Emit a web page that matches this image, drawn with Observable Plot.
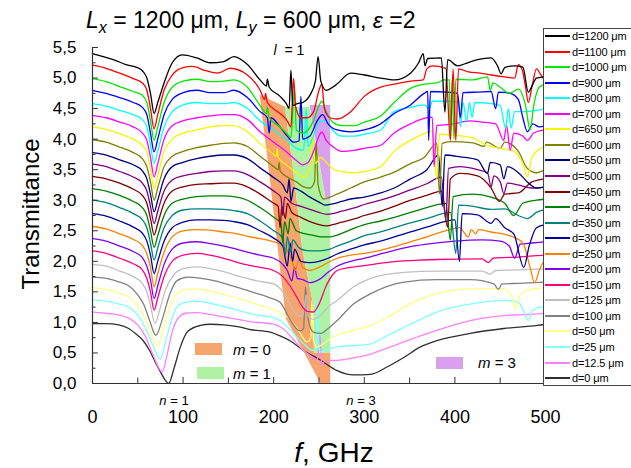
<!DOCTYPE html>
<html><head><meta charset="utf-8">
<script src="https://cdn.jsdelivr.net/npm/d3@7"></script>
<script src="https://cdn.jsdelivr.net/npm/@observablehq/plot@0.6"></script>
<style>
body{margin:0;background:#fff;font-family:"Liberation Sans",Arial,sans-serif;}
#wrap{position:relative;width:631px;height:468px;overflow:hidden;background:#fff;}
.ov{position:absolute;white-space:nowrap;color:#000;line-height:1;}
#wrap svg{position:absolute;left:0;top:0;}
</style></head><body><div id="wrap"></div>
<script>
const seriesNames = ["d=1200 μm","d=1100 μm","d=1000 μm","d=900 μm","d=800 μm","d=700 μm","d=650 μm","d=600 μm","d=550 μm","d=500 μm","d=450 μm","d=400 μm","d=350 μm","d=300 μm","d=250 μm","d=200 μm","d=150 μm","d=125 μm","d=100 μm","d=50 μm","d=25 μm","d=12.5 μm","d=0 μm"];
const seriesColors = ["#000000","#ff0000","#00e800","#0000ff","#00ffff","#ff00ff","#f5f500","#808000","#000080","#800080","#800000","#008000","#008080","#0000a0","#ff8000","#8000ff","#ff0080","#c0c0c0","#808080","#ffff80","#80ffff","#ff80ff","#303030"];

const d1200 = [[0,5.40],[12,5.35],[25,5.29],[37,5.22],[48,5.18],[55,5.12],[60,5.0],[64,4.75],[68,4.42],[72,4.6],[79,4.92],[88,5.25],[99,5.38],[115,5.33],[130,5.25],[145,5.27],[156,5.35],[171,5.22],[185,4.97],[192,4.87],[193,4.98],[195,4.85],[207,4.7],[214,4.58],[217,4.5],[219,5.13],[221,4.55],[226,4.58],[232,4.6],[240,4.72],[246,4.95],[249,5.35],[252,4.95],[258,4.8],[268,4.88],[285,5.08],[300,5.05],[318,5.0],[333,4.97],[351,5.08],[360,5.25],[365,5.4],[367,5.2],[370,5.32],[385,5.33],[389,4.44],[392,5.3],[403,5.2],[414,5.25],[425,5.3],[440,5.33],[447,5.2],[451,5.07],[455,5.17],[465,5.2],[475,5.18],[481,4.77],[486,4.9],[490,5.0],[500,5.02]];
const d1100 = [[0,5.21],[15,5.16],[30,5.08],[45,4.99],[55,4.92],[60,4.8],[64,4.5],[68,4.17],[72,4.4],[79,4.8],[88,5.05],[100,5.17],[110,5.19],[125,5.12],[138,5.08],[152,5.16],[171,5.05],[185,4.8],[190,4.65],[191,4.75],[193,4.6],[207,4.42],[215,4.3],[219,4.2],[222,5.0],[224,4.55],[230,4.35],[237,4.35],[244,4.45],[250,4.8],[253,4.9],[256,4.5],[262,4.35],[270,4.33],[285,4.45],[300,4.7],[318,4.85],[333,4.9],[351,4.95],[365,4.97],[369,5.15],[375,5.2],[390,5.16],[395,3.98],[398,5.15],[401,3.98],[404,5.15],[415,5.1],[428,5.08],[440,5.05],[455,5.02],[466,5.0],[470,5.22],[474,5.15],[478,4.85],[481,4.6],[485,4.85],[490,5.15],[495,5.05],[500,4.95]];
const d1000 = [[0,4.99],[15,4.94],[30,4.86],[45,4.78],[55,4.72],[60,4.6],[64,4.3],[68,3.98],[72,4.2],[79,4.6],[88,4.85],[100,4.95],[115,4.98],[130,4.94],[145,4.95],[156,4.97],[171,4.85],[185,4.55],[192,4.42],[193,4.52],[195,4.35],[207,4.2],[215,4.08],[219,4.03],[223,4.83],[225,4.15],[232,4.1],[238,4.15],[244,4.3],[250,4.55],[253,4.62],[258,4.45],[265,4.28],[275,4.22],[290,4.22],[300,4.28],[318,4.38],[333,4.6],[351,4.83],[366,4.9],[380,4.92],[388,4.97],[394,4.97],[395,4.0],[397,4.98],[399,4.0],[401,4.98],[420,4.97],[436,5.02],[439,4.8],[442,4.92],[450,4.85],[460,4.75],[470,4.82],[478,4.55],[483,4.15],[487,4.55],[493,4.85],[500,4.9]];
const d900 = [[0,4.80],[15,4.75],[30,4.68],[45,4.6],[55,4.52],[60,4.4],[64,4.1],[68,3.79],[72,4.0],[79,4.4],[88,4.65],[100,4.76],[115,4.8],[130,4.76],[145,4.76],[156,4.8],[171,4.68],[185,4.45],[193,4.35],[195,4.1],[197,4.35],[207,4.2],[215,4.05],[222,3.95],[228,3.97],[230,4.7],[232,4.0],[240,4.05],[248,4.3],[254,4.4],[260,4.25],[270,4.15],[285,4.12],[300,4.15],[318,4.25],[333,4.42],[351,4.56],[366,4.75],[370,4.78],[371,3.98],[373,4.78],[390,4.77],[403,4.75],[406,4.35],[409,4.76],[425,4.77],[440,4.78],[445,4.5],[448,4.77],[461,4.75],[470,4.65],[475,4.35],[480,4.12],[486,4.25],[493,4.2],[500,4.22]];
const d800 = [[0,4.58],[15,4.54],[30,4.47],[45,4.4],[55,4.32],[60,4.2],[64,3.9],[68,3.6],[72,3.8],[79,4.2],[88,4.45],[100,4.56],[115,4.6],[130,4.58],[145,4.58],[156,4.6],[171,4.5],[185,4.3],[200,4.15],[215,3.98],[225,3.85],[233,3.82],[236,4.5],[238,3.88],[244,4.05],[252,4.3],[258,4.3],[265,4.15],[275,4.05],[290,4.05],[300,4.08],[318,4.15],[333,4.45],[351,4.52],[366,4.56],[372,4.5],[375,4.62],[390,4.62],[404,4.6],[406,4.2],[409,4.6],[413,4.28],[416,4.6],[419,4.36],[422,4.6],[440,4.58],[450,4.55],[456,4.18],[459,4.5],[462,4.18],[466,4.45],[475,4.45],[490,4.47],[500,4.5]];
const d700 = [[0,4.39],[15,4.35],[30,4.28],[45,4.2],[55,4.1],[60,3.98],[64,3.7],[68,3.38],[72,3.6],[79,4.0],[88,4.22],[100,4.3],[115,4.35],[130,4.38],[145,4.4],[156,4.4],[171,4.32],[185,4.12],[200,3.95],[215,3.78],[225,3.65],[232,3.58],[238,3.62],[244,3.8],[250,4.05],[253,4.12],[258,3.98],[265,3.88],[275,3.8],[290,3.82],[300,3.85],[318,3.9],[333,4.1],[351,4.25],[366,4.34],[375,4.36],[377,3.55],[380,4.22],[395,4.24],[417,4.3],[430,4.28],[445,4.25],[454,3.98],[457,4.23],[461,3.82],[465,4.1],[475,4.05],[480,3.98],[487,4.1],[500,4.15]];
const d650 = [[0,4.20],[15,4.16],[30,4.09],[45,4.0],[55,3.9],[60,3.78],[64,3.5],[68,3.19],[72,3.4],[79,3.8],[88,4.0],[100,4.1],[115,4.15],[130,4.2],[145,4.22],[156,4.22],[171,4.12],[185,3.93],[200,3.75],[203,3.72],[204,3.85],[205,3.7],[215,3.57],[225,3.45],[233,3.38],[240,3.5],[243,4.09],[246,3.6],[252,3.7],[258,3.62],[265,3.52],[275,3.47],[290,3.45],[300,3.47],[318,3.55],[333,3.8],[351,3.98],[366,4.09],[375,4.13],[380,3.35],[383,4.08],[395,4.07],[420,4.02],[435,3.9],[450,3.85],[465,3.8],[475,3.6],[480,3.38],[485,3.7],[495,3.85],[500,3.88]];
const d600 = [[0,3.99],[15,3.95],[30,3.87],[45,3.78],[55,3.68],[60,3.55],[64,3.3],[68,3.0],[72,3.2],[79,3.55],[88,3.72],[100,3.8],[115,3.86],[130,3.9],[145,3.93],[156,3.94],[171,3.88],[185,3.72],[200,3.55],[205,3.5],[206,3.62],[207,3.48],[215,3.38],[225,3.3],[233,3.22],[240,3.2],[245,3.3],[247,3.95],[249,3.25],[255,3.02],[262,3.05],[270,3.1],[285,3.2],[300,3.3],[318,3.38],[333,3.46],[351,3.6],[366,3.7],[380,3.93],[383,3.1],[386,3.93],[395,3.96],[420,3.94],[432,3.88],[435,3.95],[450,3.85],[455,3.95],[470,3.8],[480,3.52],[490,3.45],[500,3.5]];
const d550 = [[0,3.78],[15,3.74],[30,3.66],[45,3.58],[55,3.48],[60,3.35],[64,3.1],[68,2.81],[72,3.0],[79,3.35],[88,3.55],[100,3.62],[115,3.68],[130,3.72],[145,3.74],[156,3.74],[171,3.68],[185,3.53],[200,3.37],[210,3.25],[215,3.12],[217,3.35],[219,2.98],[222,3.2],[230,3.15],[240,3.05],[250,2.97],[257,2.92],[265,2.94],[275,2.98],[285,3.02],[300,3.05],[318,3.12],[333,3.2],[351,3.35],[369,3.5],[382,3.74],[386,2.9],[389,3.74],[406,3.71],[425,3.66],[436,3.44],[439,3.62],[450,3.58],[454,3.35],[458,3.55],[470,3.45],[480,3.3],[490,3.2],[500,3.22]];
const d500 = [[0,3.59],[15,3.55],[30,3.47],[45,3.38],[55,3.28],[60,3.15],[64,2.9],[68,2.62],[72,2.82],[79,3.15],[88,3.33],[100,3.4],[115,3.44],[130,3.47],[145,3.48],[156,3.48],[171,3.42],[185,3.3],[200,3.15],[208,3.05],[210,2.75],[212,3.05],[220,2.95],[230,2.9],[240,2.85],[250,2.8],[259,2.77],[265,2.78],[275,2.82],[290,2.88],[300,2.93],[318,3.0],[333,3.07],[351,3.17],[369,3.27],[385,3.38],[390,2.68],[393,3.52],[406,3.55],[425,3.5],[436,3.45],[440,3.22],[443,3.4],[450,3.3],[454,3.11],[458,3.28],[470,3.25],[485,3.2],[500,3.22]];
const d450 = [[0,3.39],[15,3.35],[30,3.28],[45,3.18],[55,3.08],[60,2.95],[64,2.7],[68,2.43],[72,2.62],[79,2.95],[88,3.15],[100,3.22],[115,3.26],[130,3.27],[145,3.28],[156,3.28],[171,3.22],[185,3.1],[200,2.95],[205,2.9],[207,2.55],[209,2.9],[213,2.7],[215,2.95],[220,2.8],[230,2.72],[240,2.65],[250,2.6],[259,2.58],[265,2.6],[275,2.64],[290,2.7],[300,2.75],[318,2.82],[333,2.9],[351,3.0],[369,3.08],[385,3.15],[392,2.56],[395,3.35],[406,3.44],[425,3.4],[440,3.2],[449,2.98],[455,3.1],[470,3.12],[485,3.3],[500,3.35]];
const d400 = [[0,3.19],[15,3.15],[30,3.08],[45,2.98],[55,2.88],[60,2.75],[64,2.5],[68,2.23],[72,2.42],[79,2.75],[88,2.95],[100,3.02],[115,3.06],[130,3.07],[145,3.07],[156,3.06],[171,3.0],[185,2.88],[200,2.72],[208,2.62],[210,2.3],[212,2.65],[216,2.45],[218,2.7],[225,2.5],[235,2.45],[245,2.42],[255,2.4],[262,2.4],[270,2.43],[285,2.52],[300,2.6],[318,2.66],[333,2.72],[351,2.8],[369,2.88],[390,2.95],[395,2.35],[398,3.06],[420,3.1],[440,3.05],[455,2.95],[465,2.75],[475,2.95],[490,3.0],[500,3.02]];
const d350 = [[0,3.00],[15,2.96],[30,2.88],[45,2.78],[55,2.68],[60,2.55],[64,2.3],[68,2.02],[72,2.22],[79,2.55],[88,2.75],[100,2.84],[115,2.86],[130,2.86],[145,2.85],[156,2.83],[171,2.78],[185,2.66],[200,2.5],[210,2.38],[213,2.1],[215,2.4],[219,2.15],[221,2.35],[228,2.22],[235,2.18],[245,2.17],[255,2.18],[262,2.2],[270,2.25],[285,2.33],[300,2.42],[318,2.48],[333,2.55],[351,2.63],[369,2.7],[395,2.8],[401,2.13],[404,2.92],[420,2.9],[440,2.85],[455,2.86],[470,2.75],[480,2.7],[490,2.8],[500,2.85]];
const d300 = [[0,2.78],[15,2.74],[30,2.66],[45,2.56],[55,2.46],[60,2.33],[64,2.1],[68,1.8],[72,2.0],[79,2.33],[88,2.55],[100,2.64],[115,2.68],[130,2.68],[145,2.67],[156,2.65],[171,2.6],[185,2.5],[200,2.38],[210,2.25],[215,1.92],[218,2.3],[221,2.0],[223,2.2],[230,2.0],[240,1.98],[250,2.0],[260,2.05],[270,2.12],[285,2.2],[300,2.27],[318,2.33],[333,2.4],[351,2.48],[369,2.56],[400,2.68],[405,2.0],[408,2.78],[425,2.76],[440,2.62],[445,2.7],[455,2.55],[465,2.45],[476,1.9],[482,2.25],[490,2.55],[500,2.6]];
const d250 = [[0,2.57],[15,2.53],[30,2.45],[45,2.36],[55,2.26],[60,2.12],[64,1.9],[68,1.58],[72,1.8],[79,2.15],[88,2.4],[100,2.5],[115,2.52],[130,2.51],[145,2.48],[156,2.46],[171,2.41],[185,2.37],[200,2.32],[210,2.25],[218,2.1],[224,1.85],[228,2.05],[232,1.9],[240,1.85],[250,1.9],[260,1.98],[270,2.05],[285,2.1],[300,2.13],[318,2.18],[333,2.24],[351,2.32],[369,2.4],[392,2.51],[405,2.55],[415,2.4],[418,2.52],[423,2.45],[426,2.52],[440,2.48],[460,2.42],[475,2.3],[483,1.9],[488,1.65],[493,1.85],[500,2.05]];
const d200 = [[0,2.37],[15,2.33],[30,2.25],[45,2.16],[55,2.06],[60,1.92],[64,1.7],[68,1.39],[72,1.6],[79,1.95],[88,2.2],[100,2.3],[115,2.32],[130,2.29],[145,2.25],[156,2.21],[171,2.15],[185,2.1],[200,2.05],[210,1.95],[215,1.85],[220,1.68],[223,1.9],[226,1.72],[232,1.7],[240,1.65],[250,1.7],[260,1.82],[270,1.92],[285,2.0],[300,2.05],[318,2.12],[333,2.18],[351,2.24],[369,2.28],[400,2.33],[430,2.35],[450,2.33],[460,2.25],[466,2.05],[472,2.28],[485,2.3],[500,2.32]];
const d150 = [[0,2.17],[15,2.13],[30,2.05],[45,1.96],[55,1.86],[60,1.72],[64,1.5],[68,1.2],[72,1.4],[79,1.75],[88,2.0],[100,2.1],[115,2.13],[130,2.1],[145,2.05],[156,2.0],[171,1.94],[185,1.9],[200,1.85],[210,1.75],[218,1.6],[226,1.4],[232,1.25],[237,1.18],[244,1.17],[250,1.3],[258,1.6],[265,1.78],[270,1.85],[285,1.9],[300,1.93],[330,1.99],[360,2.02],[380,2.03],[430,2.04],[437,1.98],[442,2.05],[470,2.07],[500,2.1]];
const d125 = [[0,1.95],[15,1.92],[30,1.84],[45,1.75],[55,1.64],[60,1.5],[64,1.28],[69,0.98],[74,1.2],[81,1.55],[90,1.78],[100,1.88],[115,1.91],[130,1.88],[145,1.83],[156,1.78],[171,1.72],[185,1.67],[200,1.63],[210,1.5],[218,1.3],[226,1.12],[232,1.1],[236,1.45],[238,1.1],[244,1.05],[252,1.12],[260,1.25],[270,1.36],[288,1.58],[307,1.72],[344,1.82],[380,1.84],[430,1.84],[439,1.79],[445,1.85],[470,1.86],[500,1.88]];
const d100 = [[0,1.74],[15,1.72],[30,1.66],[40,1.6],[50,1.45],[57,1.28],[63,1.03],[70,0.79],[77,1.05],[85,1.45],[93,1.68],[105,1.74],[120,1.72],[135,1.68],[150,1.62],[165,1.55],[180,1.48],[196,1.4],[207,1.33],[218,1.05],[229,0.86],[233,0.9],[235,1.58],[238,1.05],[244,0.84],[252,0.82],[260,0.9],[270,1.03],[288,1.3],[307,1.47],[344,1.66],[380,1.7],[417,1.7],[443,1.63],[448,1.54],[452,1.63],[470,1.64],[500,1.66]];
const d50 = [[0,1.57],[15,1.54],[30,1.48],[40,1.42],[50,1.28],[57,1.1],[64,0.85],[72,0.6],[77,0.85],[84,1.2],[91,1.43],[100,1.53],[112,1.55],[125,1.53],[140,1.48],[155,1.42],[170,1.35],[185,1.28],[200,1.21],[207,1.17],[218,1.05],[226,0.9],[237,0.68],[241,0.75],[242,1.35],[244,0.7],[248,0.6],[255,0.65],[262,0.73],[270,0.79],[288,0.87],[307,0.95],[325,1.08],[344,1.25],[362,1.38],[380,1.47],[417,1.55],[454,1.55],[462,1.45],[467,1.22],[472,1.45],[480,1.53],[500,1.57]];
const d25 = [[0,1.37],[15,1.35],[30,1.3],[40,1.25],[50,1.12],[58,0.92],[66,0.65],[75,0.4],[80,0.65],[86,0.98],[93,1.25],[100,1.32],[112,1.35],[125,1.33],[140,1.28],[155,1.22],[170,1.16],[185,1.11],[200,1.08],[210,1.0],[220,0.85],[233,0.65],[244,0.54],[247,0.6],[248,1.36],[250,0.56],[252,0.52],[260,0.56],[270,0.6],[288,0.62],[307,0.65],[325,0.78],[344,0.92],[362,1.05],[380,1.17],[417,1.3],[454,1.36],[470,1.33],[477,1.15],[481,1.03],[486,1.2],[495,1.25],[500,1.25]];
const d12_5 = [[0,1.17],[15,1.15],[30,1.12],[40,1.07],[50,0.96],[58,0.78],[66,0.5],[77,0.19],[82,0.45],[88,0.85],[95,1.08],[103,1.15],[115,1.16],[130,1.13],[145,1.09],[160,1.05],[175,1.01],[190,0.99],[200,0.97],[210,0.9],[220,0.75],[233,0.54],[244,0.42],[248,0.38],[251,0.79],[253,0.3],[256,0.36],[262,0.38],[270,0.38],[288,0.42],[307,0.48],[325,0.58],[344,0.68],[362,0.78],[380,0.87],[417,1.03],[454,1.11],[491,1.14],[500,1.15]];
const d0 = [[0,0.98],[15,0.98],[29,0.96],[40,0.9],[48,0.81],[56,0.7],[63,0.54],[70,0.33],[75,0.19],[80,0.06],[84,0.0],[90,0.25],[97,0.6],[105,0.85],[119,0.95],[130,0.97],[145,0.96],[160,0.93],[175,0.88],[196,0.84],[207,0.78],[218,0.7],[233,0.54],[252,0.38],[270,0.21],[288,0.14],[307,0.15],[325,0.27],[344,0.43],[362,0.6],[380,0.7],[417,0.82],[454,0.9],[491,0.95],[500,0.97]];
const seriesData = [d1200,d1100,d1000,d900,d800,d700,d650,d600,d550,d500,d450,d400,d350,d300,d250,d200,d150,d125,d100,d50,d25,d12_5,d0];

// shaded mode bands: [T, left f, right f]
const bandM0 = [[0,252,263],[0.5,234,263],[0.5,234,245],[1.05,214,244],[1.3,212,244],[2.2,205,232],[3.5,195,222],[4.52,186.6,213],[4.72,185,185]];
const bandM1 = [[0.5,245,263],[1.3,244,263],[2.2,232,263],[3.0,226,263],[3.0,226,258],[3.5,222,252],[4.52,213,240]];
const bandM3 = [[3.0,258,263],[4.55,240,263]];
const bandColors = ["#f7a46e","#aef3a4","#d9a0ee"];

const xTicksMajor = [0,100,200,300,400,500];
const xTicksMinor = [50,150,250,350,450];
const yTicksMajor = [0,0.5,1,1.5,2,2.5,3,3.5,4,4.5,5,5.5];
const yTicksMinor = [0.25,0.75,1.25,1.75,2.25,2.75,3.25,3.75,4.25,4.75,5.25];

const rows = [];
seriesData.forEach((arr,i)=>arr.forEach(([f,T])=>rows.push({f,T,s:seriesNames[i]})));
const bandArea = (b,c)=>Plot.areaX(b,{y:d=>d[0],x1:d=>d[1],x2:d=>d[2],fill:c,curve:"linear"});

const plot = Plot.plot({
  width:631, height:468,
  marginLeft:92, marginRight:86, marginTop:47, marginBottom:85,
  style:{fontFamily:"'Liberation Sans',Arial,sans-serif",fontSize:"17px",background:"transparent",color:"#000"},
  x:{domain:[0,500]},
  y:{domain:[0,5.5]},
  color:{domain:seriesNames, range:seriesColors},
  marks:[
    bandArea(bandM0,bandColors[0]),
    bandArea(bandM1,bandColors[1]),
    bandArea(bandM3,bandColors[2]),
    Plot.line(rows.slice().reverse(),{x:"f",y:"T",z:"s",stroke:"s",strokeWidth:1.3,curve:"monotone-x"}),
    Plot.ruleX(xTicksMajor,{y1:0,y2:0.1,stroke:"#333"}),
    Plot.ruleX(xTicksMinor,{y1:0,y2:0.09,stroke:"#333"}),
    Plot.ruleY(yTicksMajor,{x1:0,x2:6.5,stroke:"#333"}),
    Plot.ruleY(yTicksMinor,{x1:0,x2:4,stroke:"#333"}),
    Plot.ruleY([0],{x1:0,x2:500,stroke:"#333",strokeWidth:1.2}),
    Plot.ruleX([0],{y1:0,y2:5.5,stroke:"#333",strokeWidth:1.2}),
    Plot.axisX({ticks:xTicksMajor,tickSize:0,tickPadding:27,fontSize:18,label:null}),
    Plot.axisY({ticks:yTicksMajor,tickSize:0,tickPadding:16,fontSize:17,label:null,tickFormat:d=>d.toFixed(1).replace(".",",")})
  ]
});
const wrap = document.getElementById("wrap");
wrap.appendChild(plot);

function ov(html, css){const e=document.createElement("div");e.className="ov";e.innerHTML=html;Object.assign(e.style,css);wrap.appendChild(e);return e;}
// title
ov('<i>L</i><sub style="font-size:0.7em;vertical-align:-0.3em"><i>x</i></sub> = 1200 μm, <i>L</i><sub style="font-size:0.7em;vertical-align:-0.3em"><i>y</i></sub> = 600 μm, <i>ε</i> =2',{left:"86px",top:"9px",fontSize:"23px"});
// axis titles
ov('Transmittance',{left:"31px",top:"214px",fontSize:"24px",transform:"translate(-50%,-50%) rotate(-90deg)"});
ov('<i>f</i>, GHz',{left:"334px",top:"453px",fontSize:"28px",transform:"translate(-50%,-50%)"});
// annotations
ov('<i>n</i> = 1',{left:"174px",top:"400px",fontSize:"13px",transform:"translate(-50%,-50%)"});
ov('<i>n</i> = 3',{left:"361px",top:"400px",fontSize:"13px",transform:"translate(-50%,-50%)"});
ov('<i>l</i>&nbsp; = 1',{left:"289px",top:"50px",fontSize:"14px",transform:"translate(-50%,-50%)"});
// band legend
const bandLabels = [["<i>m</i> = 0",195,343,233,349],["<i>m</i> = 1",197,367,233,373],["<i>m</i> = 3",436,357,478,362]];
bandLabels.forEach(([t,sx,sy,tx,ty],i)=>{
  ov('',{left:sx+"px",top:sy+"px",width:"27px",height:"12px",background:bandColors[i]});
  ov(t,{left:tx+"px",top:ty+"px",fontSize:"15px",transform:"translateY(-50%)"});
});
// series legend
ov('',{left:"543px",top:"28px",width:"110px",height:"356px",border:"1px solid #444",background:"#fff"});
seriesNames.forEach((n,i)=>{
  const cy = 36 + i*15.55;
  ov('',{left:"545px",top:(cy-1)+"px",width:"25px",height:"2px",background:seriesColors[i]});
  ov(n,{left:"572px",top:cy+"px",fontSize:"11px",letterSpacing:"-0.1px",transform:"translateY(-50%)"});
});
</script></body></html>
